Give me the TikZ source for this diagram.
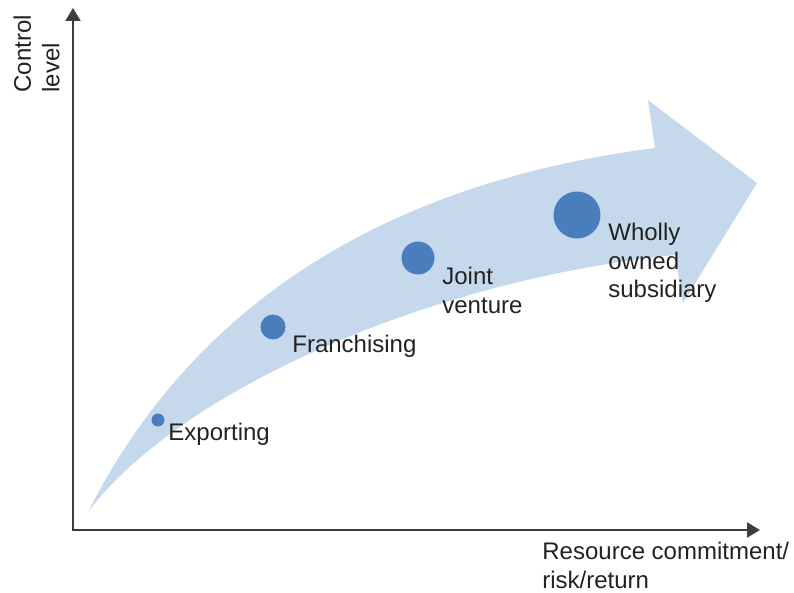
\documentclass[tikz,border=0pt]{standalone}
\usepackage{fontspec}
\setmainfont{Liberation Sans}
\usetikzlibrary{arrows.meta}
\definecolor{bandblue}{RGB}{198,217,236}
\definecolor{dotblue}{RGB}{74,125,188}
\definecolor{axisgray}{RGB}{60,60,60}
\definecolor{textgray}{RGB}{34,34,34}

\begin{document}
\begin{tikzpicture}[x=0.5pt,y=-0.5pt,
  dot/.style={circle,fill=dotblue,inner sep=0pt},
  lbl/.style={align=left,inner sep=0pt,anchor=north west,text=textgray,font=\fontsize{12}{14.3}\selectfont},
  axis/.style={draw=axisgray,line width=1pt,{Triangle[length=6.5pt,width=7.5pt]}-{Triangle[length=6.5pt,width=7.5pt]}}]
  \useasboundingbox (0,0) rectangle (794,593);

  % curved band with its head
  \fill[bandblue] (88,512) .. controls (170,350) and (330,190) .. (655,148)
    -- (648,100) -- (757,183) -- (683,303) -- (675,255)
    .. controls (430,280) and (180,390) .. (88,512) -- cycle;

  % axes
  \coordinate (0) at (73,530);
  \coordinate (ytop) at (73,8);
  \coordinate (xend) at (760,530);
  \draw[axis] (ytop) -- (0) -- (xend);

  \node[dot,minimum size=6.5pt] (1) at (158,420){};
  \node[dot,minimum size=12.5pt] (2) at (273,327){};
  \node[dot,minimum size=16.5pt] (3) at (418,258){};
  \node[dot,minimum size=23.5pt] (4) at (577,215){};

  \node[lbl] (t1) at (168,423) {Exporting};
  \node[lbl] (t2) at (292,335) {Franchising};
  \node[lbl] (t3) at (442,267) {Joint\\venture};
  \node[lbl] (t4) at (608,223) {Wholly\\owned\\subsidiary};

  \node[lbl] (xl) at (542,542) {Resource commitment/\\risk/return};
  \node[lbl,rotate=90] (yl) at (13,93) {Control\\level};
\end{tikzpicture}
\end{document}
